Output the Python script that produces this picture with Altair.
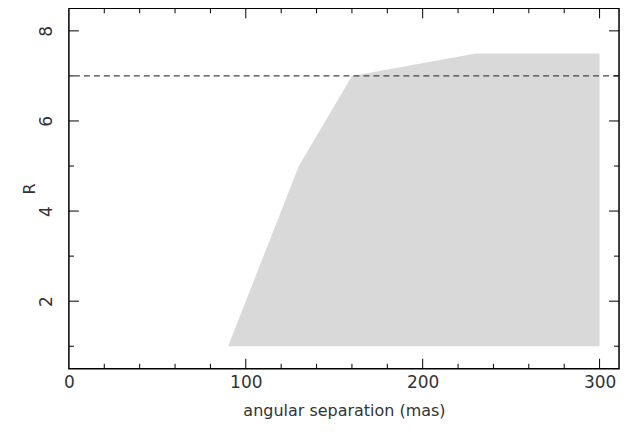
import altair as alt
import pandas as pd

# polygon (shaded region): upper boundary, lower boundary at R=1
sep = [90, 130, 160, 230, 300]
r_upper = [1, 5, 7, 7.5, 7.5]
r_lower = [1, 1, 1, 1, 1]
r_limit = [7]

x_major = [100, 200, 300]
x_minor = [20, 40, 60, 80, 120, 140, 160, 180, 220, 240, 260, 280]
y_major = [2, 4, 6, 8]
y_minor = [1, 3, 5, 7]
x_labels = [0, 100, 200, 300]

W, H = 551, 361
MAJ, MIN = 10, 5
FONT = "DejaVu Sans"
TXT = "#333"

xs = alt.Scale(domain=[0, 311], nice=False, zero=False)
ys = alt.Scale(domain=[0.5, 8.5], nice=False, zero=False)

x_axis = alt.Axis(values=x_labels, title="angular separation (mas)", ticks=False,
                  domain=False, grid=False, labelPadding=6, labelFontSize=17,
                  titleFontSize=16, titlePadding=12, labelFont=FONT, titleFont=FONT,
                  labelFontWeight="normal", titleFontWeight="normal", labelFlush=False,
                  labelColor=TXT, titleColor=TXT)
y_axis = alt.Axis(values=y_major, title="R", ticks=False, domain=False, grid=False,
                  labelAngle=-90, labelPadding=22, labelFontSize=17, titleFontSize=16,
                  titlePadding=0, labelFont=FONT, titleFont=FONT,
                  labelFontWeight="normal", titleFontWeight="normal",
                  labelColor=TXT, titleColor=TXT,
                  labelBaseline="middle", labelAlign="center")

def X(): return alt.X("x:Q", scale=xs, axis=x_axis)
def Y(): return alt.Y("y:Q", scale=ys, axis=y_axis)

area_df = pd.DataFrame({"x": sep, "y": r_upper, "y2": r_lower})

area = alt.Chart(area_df).mark_area(color="#d9d9d9", opacity=1).encode(
    x=X(), y=Y(), y2="y2:Q")

limit = alt.Chart(pd.DataFrame({"y": r_limit})).mark_rule(
    color="#444", strokeDash=[6, 4], strokeWidth=1.2).encode(y=Y())

def xticks(vals, length):
    df = pd.DataFrame({"x": vals})
    bot = alt.Chart(df).mark_rule(color="black", strokeWidth=1).encode(
        x=X(), y=alt.value(H), y2=alt.value(H - length))
    top = alt.Chart(df).mark_rule(color="black", strokeWidth=1).encode(
        x=X(), y=alt.value(0), y2=alt.value(length))
    return [bot, top]

def yticks(vals, length):
    df = pd.DataFrame({"y": vals})
    left = alt.Chart(df).mark_rule(color="black", strokeWidth=1).encode(
        y=Y(), x=alt.value(0), x2=alt.value(length))
    right = alt.Chart(df).mark_rule(color="black", strokeWidth=1).encode(
        y=Y(), x=alt.value(W), x2=alt.value(W - length))
    return [left, right]

layers = [area, limit] + xticks(x_major, MAJ) + xticks(x_minor, MIN) + yticks(y_major, MAJ) + yticks(y_minor, MIN)

chart = alt.layer(*layers).properties(
    width=W, height=H, background="white",
    autosize=alt.AutoSizeParams(type="none"),
    padding={"left": 61, "top": 0, "right": 17, "bottom": 60},
).configure_view(stroke="black", strokeWidth=1.5)

chart.save("out.html", embed_options={"renderer": "svg", "actions": False})
